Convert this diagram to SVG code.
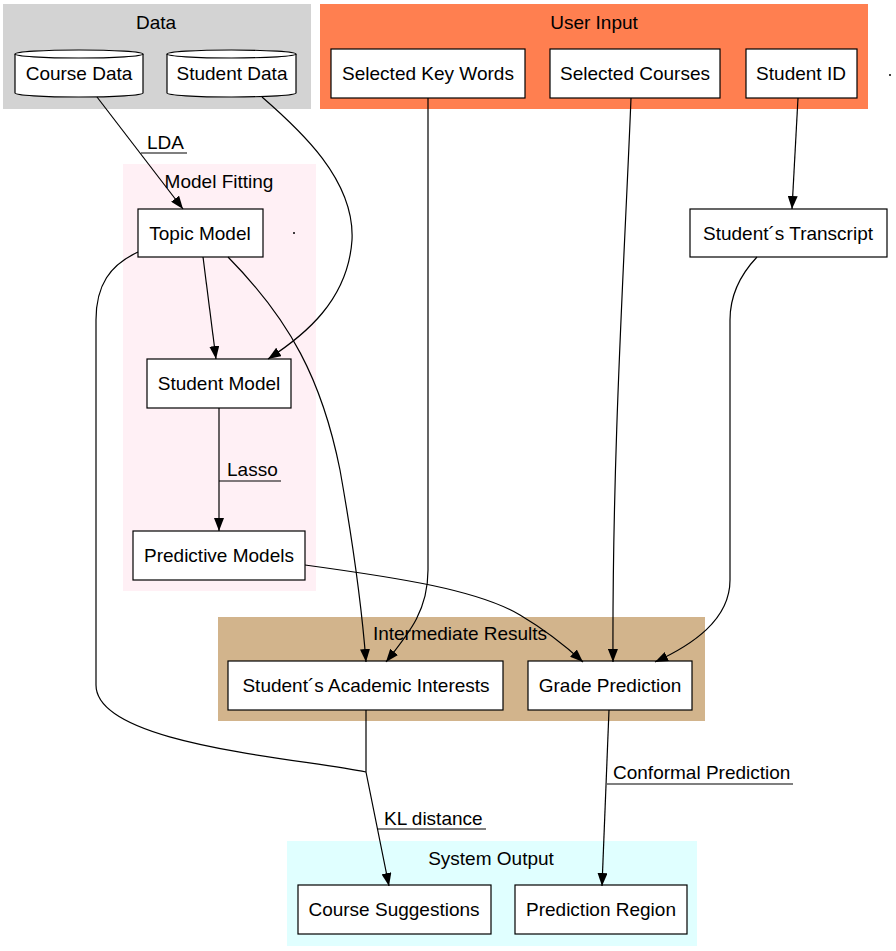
<svg xmlns="http://www.w3.org/2000/svg" width="896" height="951" viewBox="0 0 896 951">
  <style>
    text { font-family: "Liberation Sans", Arial, sans-serif; font-size: 19px; fill: #000; }
    .c { text-anchor: middle; }
    .box { fill: #fff; stroke: #000; stroke-width: 1.2; }
    .edge { fill: none; stroke: #000; stroke-width: 1.2; }
    .deco { fill: none; stroke: #000; stroke-width: 1.2; }
  </style>
  <defs>
    <marker id="arrow" viewBox="0 0 13 10" refX="13" refY="5" markerWidth="13" markerHeight="10" markerUnits="userSpaceOnUse" orient="auto">
      <path d="M0,0 L13,5 L0,10 Z" fill="#000"/>
    </marker>
  </defs>
  <rect width="896" height="951" fill="#fff"/>

  <!-- clusters -->
  <g id="cluster-data">
    <rect x="3" y="4" width="308" height="105" fill="#d3d3d3"/>
    <text class="c" x="156" y="29">Data</text>
  </g>
  <g id="cluster-user-input">
    <rect x="320" y="4" width="548" height="105" fill="#ff7f50"/>
    <text class="c" x="594" y="29">User Input</text>
  </g>
  <g id="cluster-model-fitting">
    <rect x="123" y="164" width="193" height="427" fill="#fff0f5"/>
    <text class="c" x="219" y="188">Model Fitting</text>
  </g>
  <g id="cluster-intermediate">
    <rect x="218" y="617" width="487" height="104" fill="#d2b48c"/>
    <text class="c" x="460" y="640">Intermediate Results</text>
  </g>
  <g id="cluster-output">
    <rect x="287" y="841" width="410" height="105" fill="#e0ffff"/>
    <text class="c" x="491" y="865">System Output</text>
  </g>

  <!-- nodes -->
  <g id="course-data">
    <path class="box" d="M15,54 A64,4 0 0 1 143,54 L143,93 A64,4 0 0 1 15,93 Z"/>
    <path class="edge" d="M15,54 A64,4 0 0 0 143,54"/>
    <text class="c" x="79" y="80">Course Data</text>
  </g>
  <g id="student-data">
    <path class="box" d="M167,54 A64.5,4 0 0 1 296,54 L296,93 A64.5,4 0 0 1 167,93 Z"/>
    <path class="edge" d="M167,54 A64.5,4 0 0 0 296,54"/>
    <text class="c" x="232" y="80">Student Data</text>
  </g>
  <g id="selected-key-words">
    <rect class="box" x="331" y="49" width="194" height="49"/>
    <text class="c" x="428" y="80">Selected Key Words</text>
  </g>
  <g id="selected-courses">
    <rect class="box" x="550" y="49" width="170" height="49"/>
    <text class="c" x="635" y="80">Selected Courses</text>
  </g>
  <g id="student-id">
    <rect class="box" x="746" y="49" width="111" height="49"/>
    <text class="c" x="801" y="80">Student ID</text>
  </g>
  <g id="point-a">
    <circle cx="890" cy="75" r="1" fill="#000"/>
  </g>
  <g id="topic-model">
    <rect class="box" x="138" y="209" width="125" height="48"/>
    <text class="c" x="200" y="240">Topic Model</text>
  </g>
  <g id="point-b">
    <circle cx="294" cy="233" r="1" fill="#000"/>
  </g>
  <g id="student-transcript">
    <rect class="box" x="690" y="209" width="197" height="48"/>
    <text class="c" x="788" y="240">Student´s Transcript</text>
  </g>
  <g id="student-model">
    <rect class="box" x="147" y="359" width="144" height="49"/>
    <text class="c" x="219" y="390">Student Model</text>
  </g>
  <g id="predictive-models">
    <rect class="box" x="133" y="531" width="172" height="49"/>
    <text class="c" x="219" y="562">Predictive Models</text>
  </g>
  <g id="academic-interests">
    <rect class="box" x="228" y="661" width="275" height="49"/>
    <text class="c" x="366" y="692">Student´s Academic Interests</text>
  </g>
  <g id="grade-prediction">
    <rect class="box" x="528" y="661" width="164" height="49"/>
    <text class="c" x="610" y="692">Grade Prediction</text>
  </g>
  <g id="course-suggestions">
    <rect class="box" x="298" y="885" width="193" height="49"/>
    <text class="c" x="394" y="916">Course Suggestions</text>
  </g>
  <g id="prediction-region">
    <rect class="box" x="515" y="885" width="172" height="49"/>
    <text class="c" x="601" y="916">Prediction Region</text>
  </g>

  <!-- connectors -->
  <g id="edges">
    <path class="edge" marker-end="url(#arrow)" d="M97,97 L183,209"/>
    <path class="deco" d="M141,153 H187"/>
    <text x="147" y="149">LDA</text>

    <path class="edge" marker-end="url(#arrow)" d="M262,97 C300,130 355,180 352,240 C348,300 305,335 268,359"/>

    <path class="edge" marker-end="url(#arrow)" d="M203,257 L216,359"/>

    <path class="edge" marker-end="url(#arrow)" d="M228,257 C290,320 322,380 340,470 C356,560 362,610 366,662"/>

    <path class="edge" d="M138,252 C110,265 96,285 96,320 L96,685 C96,745 300,758 366,772"/>

    <path class="edge" marker-end="url(#arrow)" d="M219,408 L219,531"/>
    <path class="deco" d="M219,481 H281"/>
    <text x="227" y="476">Lasso</text>

    <path class="edge" marker-end="url(#arrow)" d="M305,565 C400,578 478,590 520,615 C552,634 570,650 583,662"/>

    <path class="edge" marker-end="url(#arrow)" d="M428,98 L428,570 C428,610 410,632 386,662"/>

    <path class="edge" marker-end="url(#arrow)" d="M631,98 C625,250 612,450 613,662"/>

    <path class="edge" marker-end="url(#arrow)" d="M798,98 L792,209"/>

    <path class="edge" marker-end="url(#arrow)" d="M757,257 C740,275 730,295 730,320 L730,580 C730,620 692,645 655,662"/>

    <path class="edge" marker-end="url(#arrow)" d="M366,710 L366,772 L389,886"/>
    <path class="deco" d="M377,829 H486"/>
    <text x="384" y="825">KL distance</text>

    <path class="edge" marker-end="url(#arrow)" d="M609,710 L602,886"/>
    <path class="deco" d="M607,784 H793"/>
    <text x="613" y="779">Conformal Prediction</text>
  </g>
</svg>
